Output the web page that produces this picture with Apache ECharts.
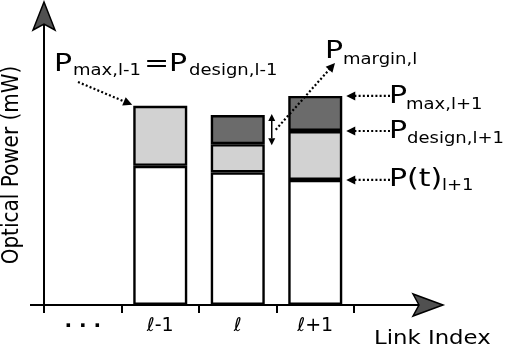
<!DOCTYPE html>
<html><head><meta charset="utf-8">
<script src="https://cdn.jsdelivr.net/npm/echarts@6/dist/echarts.min.js"></script>
<style>html,body{margin:0;padding:0;background:#fff}#c{width:513px;height:348px}</style>
</head><body><div id="c"></div>
<script>
// ---- data ----
const categories = ['...', 'ℓ-1', 'ℓ', 'ℓ+1'];
const currentPower = [null, 46.4, 44.2, 41.7];   // P(t)
const designExtra  = [null, 20.0, 9.4, 16.3];    // P_design - P(t)
const marginExtra  = [null, null, 9.7, 11.7];    // P_max - P_design
const yMin = 0, yMax = 100;
const xAxisName = 'Link Index';
const yAxisName = 'Optical Power (mW)';

const FONT = 'DejaVu Sans';
const BAR_W = 54;
const chart = echarts.init(document.getElementById('c'), null, {renderer: 'canvas'});
const barStyle = c => ({color: c, borderColor: '#000', borderWidth: 2.4});

chart.setOption({
  animation: false,
  grid: {left: 44, right: 159, top: 5, bottom: 43},
  xAxis: {
    type: 'category', data: categories,
    axisLine: {show: false},
    axisTick: {show: true, length: 8, lineStyle: {color: '#000', width: 2}},
    axisLabel: {
      interval: 0, margin: 12, color: '#000', fontFamily: FONT, fontSize: 19,
      formatter: (v, i) => i === 0 ? '{d|\u00B7 \u00B7 \u00B7}' : '{t|' + v + '}',
      rich: {
        d: {fontWeight: 'bold', fontSize: 20, fontFamily: FONT, color: '#000'},
        t: {fontSize: 19, fontFamily: FONT, color: '#000'}
      }
    },
    splitLine: {show: false}
  },
  yAxis: {
    type: 'value', min: yMin, max: yMax,
    axisLine: {show: true, lineStyle: {color: '#000', width: 2}},
    axisTick: {show: false}, axisLabel: {show: false}, splitLine: {show: false}
  },
  series: [
    {type: 'bar', stack: 'p', data: currentPower, barWidth: BAR_W, itemStyle: barStyle('#ffffff')},
    {type: 'bar', stack: 'p', data: designExtra, barWidth: BAR_W, itemStyle: barStyle('#d2d2d2')},
    {type: 'bar', stack: 'p', data: marginExtra, barWidth: BAR_W, itemStyle: barStyle('#6b6b6b')}
  ]
});

// ---- decorations (arrows, annotations) ----
const px = (i, v) => chart.convertToPixel({gridIndex: 0}, [i, v]);
const stackTop = (i, k) => [currentPower, designExtra, marginExtra].slice(0, k).reduce((s, a) => s + (a[i] || 0), 0);
const y0 = px(0, 0)[1];
const catW = px(1, 0)[0] - px(0, 0)[0];
const axX = px(0, 0)[0] - catW / 2;

const G = [];
const dot = {stroke: '#000', lineWidth: 2.2, lineDash: [2, 2.2]};
function line(x1, y1, x2, y2, style) {
  G.push({type: 'line', shape: {x1, y1, x2, y2}, style: Object.assign({stroke: '#000', lineWidth: 2}, style || {}), z: 20});
}
function head(tx, ty, fx, fy, L, W) {
  L = L || 9; W = W || 4.5;
  const d = Math.hypot(tx - fx, ty - fy), ux = (tx - fx) / d, uy = (ty - fy) / d;
  const bx = tx - L * ux, by = ty - L * uy;
  G.push({type: 'polygon', shape: {points: [[tx, ty], [bx - W * uy, by + W * ux], [bx + W * uy, by - W * ux]]},
          style: {fill: '#000'}, z: 21});
}
function arrow(fx, fy, tx, ty, dotted) {
  const d = Math.hypot(tx - fx, ty - fy), ux = (tx - fx) / d, uy = (ty - fy) / d;
  line(fx, fy, tx - 8 * ux, ty - 8 * uy, dotted ? dot : {});
  head(tx, ty, fx, fy);
}
function txt(t, x, base, size) {
  G.push({type: 'text', x: x, y: base - 0.35 * size, scaleX: 1.2, z: 22,
    style: {text: t, font: size + 'px "' + FONT + '"', fontSize: size, fontFamily: FONT, fill: '#000',
            align: 'left', verticalAlign: 'middle', textAlign: 'left', textVerticalAlign: 'middle'}});
}

// axes: long x-axis line + stealth arrowheads
line(30, y0, 425, y0, {lineWidth: 2});
G.push({type: 'polygon', z: 23, shape: {points: [[443, y0], [413, y0 - 11], [419, y0], [413, y0 + 11]]},
        style: {fill: '#505050', stroke: '#000', lineWidth: 1.5}});
G.push({type: 'polygon', z: 23, shape: {points: [[axX, 2], [axX - 11, 30], [axX, 24], [axX + 11, 30]]},
        style: {fill: '#505050', stroke: '#000', lineWidth: 1.5}});

// axis names
G.push({type: 'text', x: 375 - 1, y: 346 - 0.35 * 19, scaleX: 1.2, z: 22,
  style: {text: xAxisName, font: '19px "' + FONT + '"', fontSize: 19, fontFamily: FONT, fill: '#000',
          align: 'left', verticalAlign: 'middle', textAlign: 'left', textVerticalAlign: 'middle'}});
G.push({type: 'text', x: 12, y: 165, rotation: Math.PI / 2, scaleY: 1.15, z: 22,
  style: {text: yAxisName, font: '20px "' + FONT + '"', fontSize: 20, fontFamily: FONT, fill: '#000',
          align: 'center', verticalAlign: 'middle', textAlign: 'center', textVerticalAlign: 'middle'}});

// bar geometry
const half = BAR_W / 2 + 1;
const b1 = px(1, stackTop(1, 2)), b2x = px(2, 0)[0], b3x = px(3, 0)[0];

// P_max,l-1 = P_design,l-1
txt('P', 54, 73, 25); txt('max,l-1', 73, 76, 15);
txt('=', 144, 73, 25);
txt('P', 169, 73, 25); txt('design,l-1', 189, 76, 15);
arrow(78, 82, b1[0] - half, b1[1] - 1, true);

// margin double arrow on bar l
const mTop = px(2, stackTop(2, 3))[1], mBot = px(2, stackTop(2, 2))[1];
const mx = b2x + half + 6;
line(mx, mTop + 6, mx, mBot - 6, {lineWidth: 1.5});
head(mx, mTop - 1, mx, mBot, 7, 3.5); head(mx, mBot + 1, mx, mTop, 7, 3.5);
const mMid = (mTop + mBot) / 2;
arrow(mx + 4, mMid, 335, 63, true);
txt('P', 325, 60, 25); txt('margin,l', 343, 65, 15);

// right side labels for bar l+1
const rx = b3x + half + 3;
const levels = [px(3, stackTop(3, 3))[1], px(3, stackTop(3, 2))[1], px(3, stackTop(3, 1))[1]];
levels.forEach(y => arrow(390, y, rx, y, true));
txt('P', 389, levels[0] + 9, 25); txt('max,l+1', 406, levels[0] + 14, 15);
txt('P', 389, levels[1] + 9, 25); txt('design,l+1', 407, levels[1] + 13, 15);
txt('P(t)', 389, levels[2] + 8, 25); txt('l+1', 442, levels[2] + 11, 15);

chart.setOption({graphic: {elements: G}});
</script>
</body></html>
